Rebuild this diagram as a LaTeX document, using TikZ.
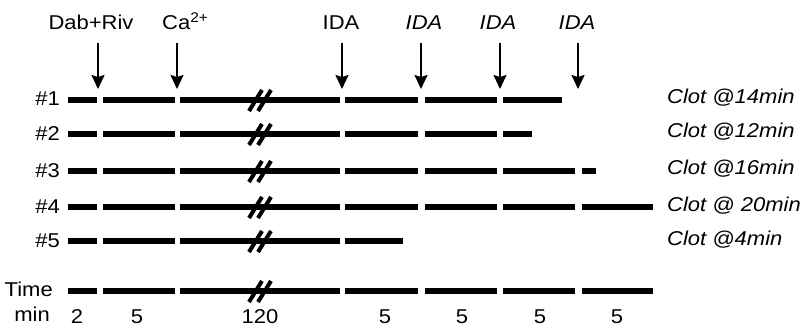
\documentclass[tikz,border=0pt]{standalone}
\usepackage{fontspec}
\setmainfont[FakeStretch=1.1]{Liberation Sans}
\usetikzlibrary{arrows.meta}
\begin{document}
\begin{tikzpicture}[x=1pt,y=-1pt,
  seg/.style={line width=5.5pt},
  brk/.style={line width=4pt},
  arr/.style={line width=1.8pt,-{Stealth[length=14pt,width=13pt,inset=2pt]}},
  lab/.style={font=\fontsize{20}{24}\selectfont, inner sep=0pt, anchor=base},
  rowlab/.style={lab, anchor=base east},
  clot/.style={lab, anchor=base west, font=\fontsize{20}{24}\selectfont\itshape}]
\useasboundingbox (0,0) rectangle (811,326);

% top labels
\node[lab] (dab) at (91,30) {Dab+Riv};
\node[lab, anchor=base west] (ca) at (162,30) {Ca\textsuperscript{2+}};
\node[lab] (ida0) at (341,30) {IDA};
\node[lab, font=\fontsize{20}{24}\selectfont\itshape] (ida1) at (424,30) {IDA};
\node[lab, font=\fontsize{20}{24}\selectfont\itshape] (ida2) at (498,30) {IDA};
\node[lab, font=\fontsize{20}{24}\selectfont\itshape] (ida3) at (577,30) {IDA};

% arrows
\foreach \n/\x in {1/98,2/177,3/342,4/421,5/500,6/578}{
  \coordinate (as\n) at (\x,43);
  \coordinate (ae\n) at (\x,89);
  \draw[arr] (as\n) -- (ae\n);
}

% row labels
\node[rowlab] (r1) at (60,106) {\#1};
\node[rowlab] (r2) at (60,140) {\#2};
\node[rowlab] (r3) at (60,177) {\#3};
\node[rowlab] (r4) at (60,213) {\#4};
\node[rowlab] (r5) at (60,247) {\#5};
\node[rowlab] (rt) at (53,296) {Time};
\node[rowlab] (rm) at (50,321) {min};

% segments
\foreach \a/\b in {68/97,103/175,180/340,345/418,425/497,503/562}
  \draw[seg] (\a,100) -- (\b,100);
\foreach \a/\b in {68/97,103/175,180/340,345/418,425/497,503/532}
  \draw[seg] (\a,134) -- (\b,134);
\foreach \a/\b in {68/97,103/175,180/340,345/418,425/497,503/575,582/596}
  \draw[seg] (\a,171) -- (\b,171);
\foreach \a/\b in {68/97,103/175,180/340,345/418,425/497,503/575,582/653}
  \draw[seg] (\a,207) -- (\b,207);
\foreach \a/\b in {68/97,103/175,180/340,345/403}
  \draw[seg] (\a,241) -- (\b,241);
\foreach \a/\b in {68/97,103/175,180/340,345/418,425/497,503/575,582/653}
  \draw[seg] (\a,291) -- (\b,291);

% break marks
\foreach \y in {100,134,171,207,241,291}{
  \draw[brk] (249,{\y+11}) -- (262,{\y-10});
  \draw[brk] (258,{\y+11}) -- (271,{\y-10});
}

% clot labels
\node[clot] (c1) at (667,104) {Clot @14min};
\node[clot] (c2) at (667,138) {Clot @12min};
\node[clot] (c3) at (667,175) {Clot @16min};
\node[clot] (c4) at (667,211) {Clot @ 20min};
\node[clot] (c5) at (667,245) {Clot @4min};

% time numbers
\node[lab] (t1) at (77,323) {2};
\node[lab] (t2) at (137,323) {5};
\node[lab] (t3) at (260,323) {120};
\node[lab] (t4) at (385,323) {5};
\node[lab] (t5) at (462,323) {5};
\node[lab] (t6) at (540,323) {5};
\node[lab] (t7) at (617,323) {5};
\end{tikzpicture}
\end{document}
